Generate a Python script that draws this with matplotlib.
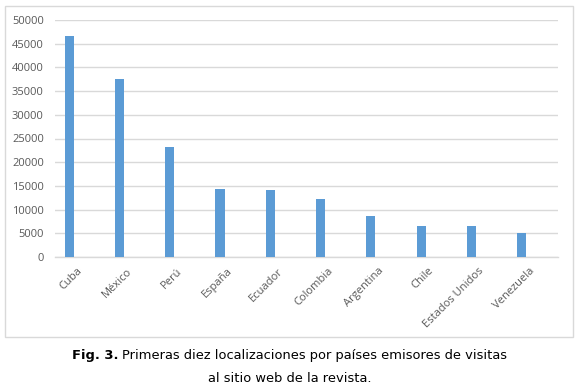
import numpy as np
import matplotlib as mpl
import matplotlib.pyplot as plt
from matplotlib.patches import Rectangle

mpl.use('Agg')

# Data
paises = ['Cuba', 'México', 'Perú', 'España', 'Ecuador', 'Colombia',
          'Argentina', 'Chile', 'Estados Unidos', 'Venezuela']
visitas = [46700, 37600, 23300, 14400, 14200, 12200, 8650, 6550, 6500, 5050]
yticks = [0, 5000, 10000, 15000, 20000, 25000, 30000, 35000, 40000, 45000, 50000]

grid_col = '#d9d9d9'
text_col = '#595959'
bar_col = '#5b9bd5'

fig = plt.figure(figsize=(5.79, 3.87), dpi=100)
ax = fig.add_axes([55 / 579, 1 - 257 / 387, 503 / 579, 237 / 387])

x = np.arange(len(paises))
ax.bar(x - 0.22, visitas, width=0.18, color=bar_col, zorder=3)

ax.set_xlim(-0.5, len(paises) - 0.5)
ax.set_ylim(0, 50000)
ax.set_yticks(yticks)
ax.set_yticklabels([str(v) for v in yticks], fontsize=8, color=text_col,
                   family='Open Sans')
ax.set_xticks(x)
ax.set_xticklabels(paises, fontsize=8, color=text_col, family='Open Sans',
                   rotation=45, ha='right', va='center', rotation_mode='anchor')
ax.tick_params(axis='y', length=0, pad=8)
ax.tick_params(axis='x', length=0, pad=9)
ax.grid(axis='y', color=grid_col, linewidth=1, zorder=0)
for s in ['top', 'right', 'left']:
    ax.spines[s].set_visible(False)
ax.spines['bottom'].set_color(grid_col)
ax.spines['bottom'].set_linewidth(1)

# Outer chart border
fig.patches.append(Rectangle((5 / 579, 1 - 337 / 387), 568 / 579, 331 / 387,
                             transform=fig.transFigure, fill=False,
                             edgecolor=grid_col, linewidth=1))

# Caption, bold "Fig. 3." followed by normal text
fig.canvas.draw()
r = fig.canvas.get_renderer()
bold = fig.text(0, 0, 'Fig. 3. ', fontsize=9.4, fontweight='bold')
rest = fig.text(0, 0, 'Primeras diez localizaciones por países emisores de visitas', fontsize=9.4)
wb = bold.get_window_extent(r).width
wr = rest.get_window_extent(r).width
x0 = (579 / 2 - (wb + wr) / 2) / 579
y1 = 1 - 356 / 387
bold.set_position((x0, y1))
bold.set_va('center')
rest.set_position((x0 + wb / 579, y1))
rest.set_va('center')
fig.text(0.5, 1 - 378 / 387, 'al sitio web de la revista.', fontsize=9.4,
         ha='center', va='center')

plt.savefig('out.png', dpi=100)
